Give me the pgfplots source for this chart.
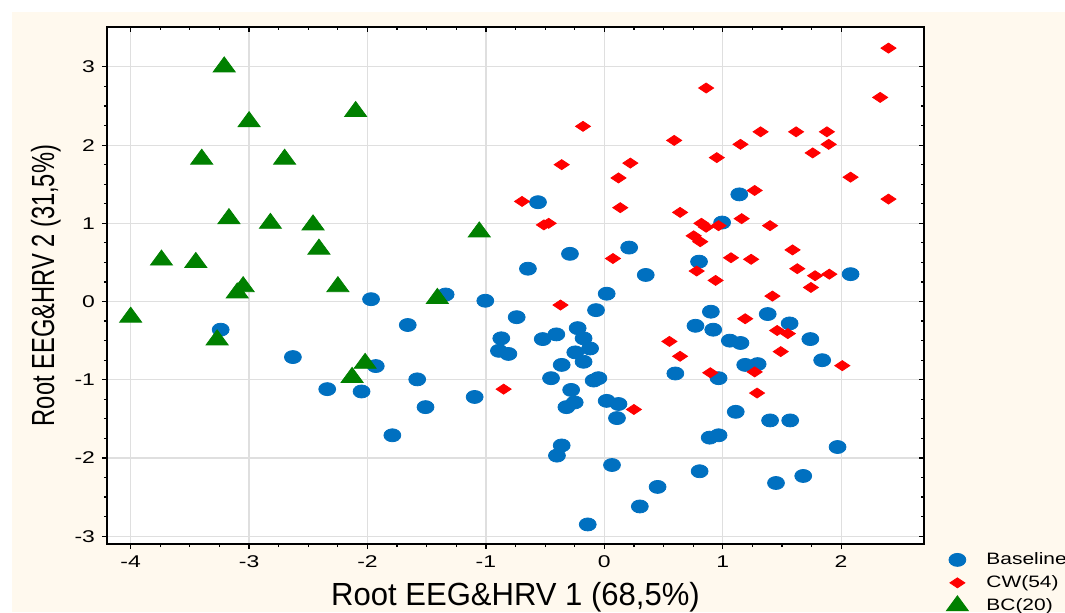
\documentclass[border=0pt]{standalone}
\usepackage{fontspec}
\setmainfont{Liberation Sans}
\usepackage{graphicx}
\usepackage{pgfplots}
\pgfplotsset{compat=1.18}
\definecolor{cream}{RGB}{255,249,238}
\definecolor{bblue}{RGB}{0,112,192}
\definecolor{rred}{RGB}{255,0,0}
\definecolor{ggreen}{RGB}{0,128,0}
\begin{document}
\begin{tikzpicture}
\useasboundingbox (-53.5pt,-34pt) rectangle (479pt,272pt);
\fill[cream] (-47.5pt,-34pt) rectangle (479pt,266pt);
\begin{axis}[
 at={(0pt,0pt)}, anchor=south west,
 scale only axis, width=408.5pt, height=258.5pt,
 xmin=-4.2, xmax=2.7, ymin=-3.1, ymax=3.51,
 xtick={-4,...,2}, ytick={-3,...,3},
 minor tick num=3,
 tick align=outside, xtick pos=left, ytick pos=left,
 major tick length=2.5pt, minor tick length=1.5pt,
 tick style={black, line width=0.6pt},
 grid=major, grid style={gray!25, line width=0.6pt},
 axis line style={black, line width=1pt},
 axis background/.style={fill=white},
 /pgf/number format/assume math mode=true,
 tick label style={font=\fontsize{8.5}{10}\selectfont},
 xticklabel={\scalebox{1.35}[1]{\pgfmathprintnumber{\tick}}},
 yticklabel={\scalebox{1.35}[1]{\pgfmathprintnumber{\tick}}},
 label style={font=\fontsize{16}{19}\selectfont},
 xlabel={\scalebox{0.97}[1]{Root EEG\&HRV 1 (68,5\%)}},
 ylabel={\scalebox{0.74}[1]{Root EEG\&HRV 2 (31,5\%)}},
 legend style={at={(axis description cs:1,0)}, anchor=north west, xshift=8pt, draw=none, fill=none, font=\fontsize{8.25}{9.9}\selectfont, row sep=0pt, /tikz/column 1/.style={column sep=7pt}},
 legend cell align=left,
]
\addplot[only marks, mark=*, color=bblue, mark size=3.25pt, mark options={xscale=1.3}] coordinates {
(-0.56,1.27) (-0.29,0.61) (0.21,0.69) (-0.645,0.42) (0.35,0.34) (0.80,0.51)
(0.02,0.10) (-1.97,0.03) (-1.34,0.09) (-1.005,0.01) (-0.74,-0.20) (-0.07,-0.11)
(1.14,1.37) (0.995,1.01) (2.08,0.35) (0.90,-0.13) (1.38,-0.16) (0.77,-0.31)
(0.92,-0.36) (1.06,-0.50) (1.15,-0.53) (1.565,-0.28) (1.74,-0.48) (1.19,-0.81)
(1.295,-0.80) (1.84,-0.75) (0.965,-0.98) (0.60,-0.92) (1.11,-1.41) (1.40,-1.52)
(1.57,-1.52) (0.89,-1.74) (0.965,-1.71) (1.97,-1.86) (0.805,-2.17) (1.45,-2.32)
(1.68,-2.23) (-1.66,-0.30) (-0.87,-0.47) (-0.52,-0.48) (-0.405,-0.42) (-0.225,-0.34)
(-0.175,-0.47) (-0.12,-0.60) (-0.89,-0.63) (-0.81,-0.67) (-0.245,-0.65) (-0.175,-0.77)
(-0.36,-0.81) (-1.93,-0.825) (-1.58,-0.995) (-0.45,-0.98) (-0.09,-1.01) (-0.05,-0.98)
(-2.05,-1.15) (-1.095,-1.22) (-0.28,-1.13) (-0.25,-1.29) (-0.32,-1.35) (-1.51,-1.35)
(0.02,-1.27) (0.12,-1.31) (0.107,-1.49) (-1.79,-1.71) (-0.36,-1.84) (-0.40,-1.97)
(0.065,-2.09) (0.45,-2.37) (0.30,-2.62) (-0.14,-2.85) (-3.24,-0.36) (-2.63,-0.71)
(-2.34,-1.12)
};
\addlegendentry{\scalebox{1.27}[1]{Baseline}}
\addplot[only marks, mark=diamond*, color=rred, mark size=2.5pt, mark options={xscale=2}] coordinates {
(-0.18,2.24) (0.59,2.06) (0.86,2.73) (-0.36,1.75) (0.22,1.77) (0.12,1.58)
(-0.695,1.28) (0.135,1.20) (0.64,1.14) (-0.51,0.98) (-0.47,1.00) (0.755,0.84)
(0.81,0.765) (0.073,0.55) (0.78,0.39) (-0.37,-0.045) (2.40,3.24) (2.33,2.61)
(1.32,2.17) (1.62,2.17) (1.88,2.17) (1.15,2.01) (1.895,2.01) (0.95,1.84)
(1.76,1.90) (2.08,1.59) (1.27,1.42) (2.40,1.31) (1.16,1.06) (0.82,1.00)
(0.86,0.95) (0.965,0.97) (1.40,0.97) (1.59,0.66) (1.07,0.56) (1.24,0.54)
(1.63,0.42) (1.78,0.33) (1.90,0.35) (0.94,0.27) (1.745,0.18) (1.42,0.07)
(1.19,-0.22) (1.46,-0.37) (1.55,-0.41) (1.49,-0.64) (0.64,-0.70) (0.55,-0.51)
(2.01,-0.82) (0.895,-0.91) (1.27,-0.90) (1.29,-1.17) (-0.85,-1.12) (0.25,-1.38)
};
\addlegendentry{\scalebox{1.27}[1]{CW(54)}}
\addplot[only marks, mark=triangle*, color=ggreen, mark size=5pt, mark options={xscale=1.27}] coordinates {
(-3.21,3.00) (-3.00,2.30) (-2.10,2.43) (-3.40,1.82) (-2.70,1.82) (-3.17,1.06)
(-2.82,1.00) (-2.46,0.98) (-2.41,0.67) (-3.74,0.53) (-3.45,0.50) (-3.05,0.19)
(-3.10,0.11) (-2.25,0.19) (-4.00,-0.20) (-1.056,0.89) (-1.41,0.04) (-3.27,-0.49)
(-2.13,-0.97) (-2.02,-0.79)
};
\addlegendentry{\scalebox{1.27}[1]{BC(20)}}
\end{axis}
\begin{axis}[
 at={(0pt,0pt)}, anchor=south west,
 scale only axis, width=408.5pt, height=258.5pt,
 xmin=-4.2, xmax=2.7, ymin=-3.1, ymax=3.51,
 xtick={-4,...,2}, ytick={-3,...,3},
 minor tick num=3,
 tick align=inside, xtick pos=right, ytick pos=right,
 major tick length=2.5pt, minor tick length=1.5pt,
 tick style={black, line width=0.6pt},
 axis line style={draw=none},
 xticklabels={}, yticklabels={},
]
\end{axis}
\end{tikzpicture}
\end{document}
